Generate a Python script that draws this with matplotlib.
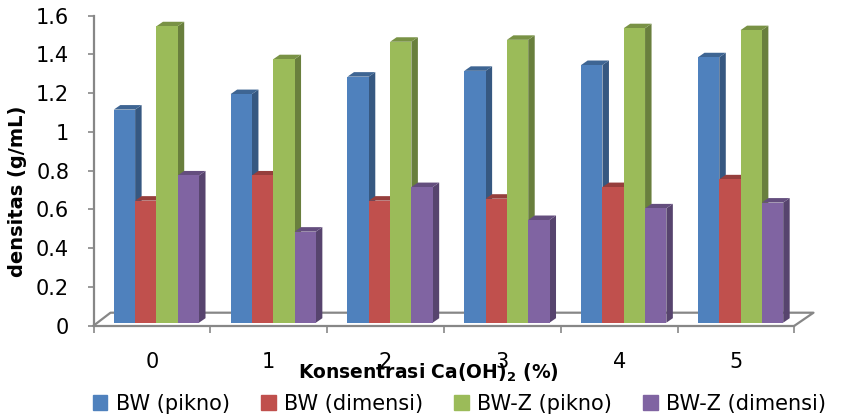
import numpy as np
import matplotlib
matplotlib.use("Agg")
import matplotlib.pyplot as plt
from matplotlib.patches import Polygon, Patch
from matplotlib.lines import Line2D
from matplotlib.colors import to_rgb

# densitas per konsentrasi Ca(OH)2
konsentrasi = ["0", "1", "2", "3", "4", "5"]
bw_pikno = [1.10, 1.18, 1.27, 1.30, 1.33, 1.37]
bw_dimensi = [0.63, 0.76, 0.63, 0.64, 0.70, 0.74]
bwz_pikno = [1.53, 1.36, 1.45, 1.46, 1.52, 1.51]
bwz_dimensi = [0.76, 0.47, 0.70, 0.53, 0.59, 0.62]

series = [
    ("BW (pikno)", bw_pikno, "#4F81BD"),
    ("BW (dimensi)", bw_dimensi, "#C0504D"),
    ("BW-Z (pikno)", bwz_pikno, "#9BBB59"),
    ("BW-Z (dimensi)", bwz_dimensi, "#8064A2"),
]

plt.rcParams["font.family"] = ["DejaVu Sans"]
W, H = 841, 417
fig = plt.figure(figsize=(W / 100, H / 100), dpi=100)
ax = fig.add_axes([93.5 / W, 1 - 325.7 / H, 701 / W, 310 / H])
ax.set_xlim(-0.5, 5.5)
ax.set_ylim(0, 1.6)

# pixel -> data conversion for the pseudo-3d faces
px_x = 701 / 6.0
px_y = 310 / 1.6

def shade(c, f):
    r, g, b = to_rgb(c)
    return (r * f, g * f, b * f)

bar_w = 21.3 / px_x
depth_x, depth_y = 6.5 / px_x, 4.5 / px_y
shift_x, shift_y = 4.5 / px_x, 3.0 / px_y
x = np.arange(len(konsentrasi))

for i in range(len(konsentrasi)):
    for k, (name, vals, col) in enumerate(series):
        x0 = x[i] - 2 * bar_w + k * bar_w + shift_x
        x1 = x0 + bar_w
        y0 = shift_y
        y1 = shift_y + vals[i]
        side = [(x1, y0), (x1 + depth_x, y0 + depth_y),
                (x1 + depth_x, y1 + depth_y), (x1, y1)]
        top = [(x0, y1), (x1, y1), (x1 + depth_x, y1 + depth_y),
               (x0 + depth_x, y1 + depth_y)]
        ax.add_patch(Polygon(side, closed=True, fc=shade(col, 0.68), ec="none",
                             clip_on=False, zorder=3))
        ax.add_patch(Polygon(top, closed=True, fc=shade(col, 0.78), ec="none",
                             clip_on=False, zorder=3))
        ax.bar(x0, vals[i], width=bar_w, bottom=y0, align="edge", color=col,
               lw=0, zorder=3, clip_on=False)

# floor outline
gray = "#878787"
fl = [(-0.5, 0), (-0.5 + 17 / px_x, 13 / px_y), (5.5 + 19 / px_x, 13 / px_y), (5.5, 0)]
ax.add_line(Line2D([p[0] for p in fl], [p[1] for p in fl], color=gray, lw=1.6,
                   clip_on=False, zorder=2))

for s in ["top", "right"]:
    ax.spines[s].set_visible(False)
for s in ["left", "bottom"]:
    ax.spines[s].set_color(gray)
    ax.spines[s].set_linewidth(1.6)

ax.set_yticks(np.arange(0, 1.61, 0.2))
ax.set_yticklabels(["0", "0.2", "0.4", "0.6", "0.8", "1", "1.2", "1.4", "1.6"])
ax.tick_params(axis="y", length=4.5, width=1.2, color=gray, pad=13, labelsize=15)
ax.set_xticks(x)
ax.set_xticklabels(konsentrasi)
ax.set_xticks(np.arange(-0.5, 6, 1), minor=True)
ax.tick_params(axis="x", which="major", length=0, pad=19, labelsize=15)
ax.tick_params(axis="x", which="minor", length=5, width=1.2, color=gray)

fig.text(18 / W, 1 - 191 / H, "densitas (g/mL)", rotation=90, ha="center",
         va="center", fontsize=14, fontweight="bold")
fig.text(428 / W, 1 - 379 / H, r"Konsentrasi Ca(OH)$_\mathbf{2}$ (%)", ha="center",
         va="baseline", fontsize=13.5, fontweight="bold")

handles = [Patch(color=c) for _, _, c in series]
fig.legend(handles, [s[0] for s in series], loc="center", ncol=4,
           bbox_to_anchor=(459.5 / W, 1 - 404 / H), frameon=False, fontsize=15,
           handlelength=0.7, handleheight=0.7, handletextpad=0.4,
           columnspacing=1.5, borderpad=0, borderaxespad=0)

fig.savefig("out.png", dpi=100)
